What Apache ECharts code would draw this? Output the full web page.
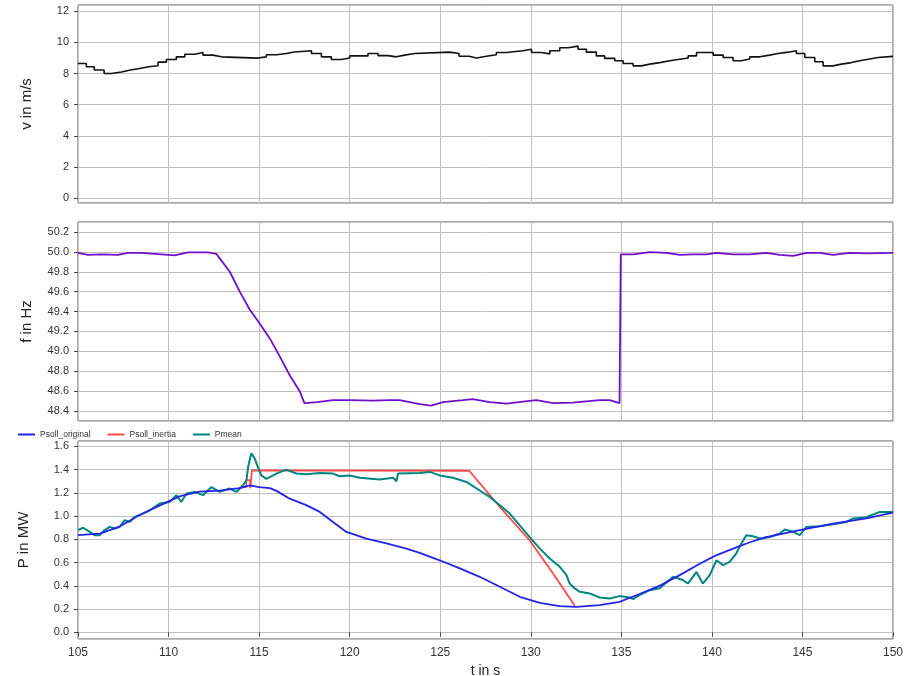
<!DOCTYPE html>
<html>
<head>
<meta charset="utf-8">
<script src="https://cdn.jsdelivr.net/npm/echarts@6/dist/echarts.min.js"></script>
<style>
  html, body { margin: 0; padding: 0; background: #fff; }
  #chart { width: 910px; height: 676px; }
</style>
</head>
<body>
<div id="chart"></div>
<script>
// wind speed v in m/s, step held from t onward
var windV = [
  [105, 8.64], [105.46, 8.43], [105.9, 8.22], [106.44, 8.0], [106.84, 8.1], [107.4, 8.22],
  [107.9, 8.32], [108.4, 8.43], [108.9, 8.5], [109.42, 8.73], [109.88, 8.9], [110.43, 9.07],
  [110.9, 9.24], [111.44, 9.35], [111.9, 9.18], [112.45, 9.07], [112.92, 8.99], [114.94, 9.07],
  [115.4, 9.2], [115.96, 9.28], [116.5, 9.38], [116.95, 9.46], [117.89, 9.28], [118.44, 9.07],
  [118.99, 8.9], [119.54, 9.0], [120.0, 9.13], [121.01, 9.28], [121.57, 9.15], [122.12, 9.07],
  [122.58, 9.18], [123.04, 9.28], [123.59, 9.37], [125.52, 9.28], [126.04, 9.11], [126.59, 9.0],
  [127.0, 9.11], [127.55, 9.2], [128.1, 9.35], [128.66, 9.46], [129.57, 9.56], [130.04, 9.35],
  [130.59, 9.26], [131.05, 9.46], [131.6, 9.65], [132.06, 9.76], [132.61, 9.56], [133.07, 9.37],
  [133.62, 9.13], [134.08, 8.97], [134.64, 8.82], [135.1, 8.64], [135.65, 8.49], [136.11, 8.6],
  [136.57, 8.7], [137.12, 8.82], [137.67, 8.9], [138.13, 9.0], [138.69, 9.13], [139.15, 9.35],
  [140.07, 9.18], [140.62, 9.03], [141.17, 8.82], [141.63, 8.93], [142.09, 9.07], [142.64, 9.18],
  [143.19, 9.28], [143.65, 9.37], [144.21, 9.46], [144.67, 9.28], [145.13, 9.03], [145.68, 8.75],
  [146.14, 8.49], [146.69, 8.6], [147.15, 8.7], [147.7, 8.82], [148.16, 8.93], [148.71, 9.03],
  [149.17, 9.1], [150, 9.1]
];

// grid frequency f in Hz
var freqF = [
  [105, 49.99], [105.55, 49.97], [106.3, 49.975], [107.2, 49.97], [107.76, 49.99], [108.5, 49.99],
  [109.24, 49.98], [109.97, 49.97], [110.34, 49.965], [111.07, 49.995], [112.18, 49.995],
  [112.64, 49.98], [113.38, 49.80], [113.93, 49.60], [114.48, 49.42], [115.03, 49.28],
  [115.59, 49.13], [116.14, 48.95], [116.69, 48.76], [117.24, 48.60], [117.5, 48.48],
  [118.2, 48.49], [119.08, 48.51], [120.0, 48.51], [121.29, 48.505], [122.21, 48.51],
  [122.76, 48.51], [123.87, 48.47], [124.5, 48.455], [125.15, 48.49], [126.26, 48.51],
  [126.8, 48.52], [127.73, 48.49], [128.66, 48.475], [129.57, 48.495], [130.31, 48.51],
  [131.23, 48.48], [132.33, 48.485], [133.8, 48.51], [134.36, 48.51], [134.9, 48.48],
  [134.97, 49.975], [135.65, 49.975], [136.57, 49.998], [137.5, 49.99], [138.22, 49.97],
  [138.96, 49.975], [139.7, 49.975], [140.25, 49.99], [141.17, 49.975], [142.09, 49.975],
  [143.0, 49.99], [143.75, 49.97], [144.48, 49.96], [145.22, 49.99], [145.96, 49.99],
  [146.69, 49.97], [147.61, 49.99], [148.53, 49.985], [150, 49.99]
];

// power P in MW
var psollOriginal = [
  [105, 0.836], [106.2, 0.85], [107.3, 0.91], [108.4, 1.01], [109.5, 1.09], [110.6, 1.17],
  [111.7, 1.21], [112.8, 1.22], [113.9, 1.24], [114.5, 1.265], [115.0, 1.25], [115.6, 1.24],
  [115.96, 1.217], [116.69, 1.15], [117.6, 1.094], [118.35, 1.036], [119.08, 0.95],
  [119.82, 0.864], [120.92, 0.807], [122.03, 0.765], [123.13, 0.72], [123.87, 0.684],
  [124.97, 0.62], [126.08, 0.55], [127.18, 0.478], [128.29, 0.392], [129.39, 0.306],
  [130.5, 0.254], [131.6, 0.226], [132.52, 0.22], [133.8, 0.235], [134.9, 0.263],
  [136.0, 0.33], [137.1, 0.40], [138.2, 0.49], [139.33, 0.59], [140.2, 0.66], [141.17, 0.72],
  [142.1, 0.775], [143.0, 0.82], [144.85, 0.88], [146.69, 0.936], [148.53, 0.98], [150, 1.03]
];
var psollInertia = [
  [114.0, 1.245], [114.28, 1.25], [114.3, 1.31], [114.5, 1.31], [114.52, 1.24], [114.57, 1.24],
  [114.6, 1.394], [126.6, 1.39], [128.29, 1.08], [129.94, 0.79], [131.23, 0.507], [132.43, 0.23]
];
var pMean = [
  [105, 0.88], [105.28, 0.90], [105.65, 0.865], [105.92, 0.836], [106.2, 0.836], [106.47, 0.88],
  [106.75, 0.907], [107.03, 0.893], [107.3, 0.907], [107.58, 0.965], [107.85, 0.95],
  [108.13, 0.993], [108.4, 1.008], [108.96, 1.05], [109.51, 1.108], [110.06, 1.122],
  [110.43, 1.18], [110.7, 1.122], [110.99, 1.194], [111.44, 1.208], [111.9, 1.18],
  [112.37, 1.25], [112.82, 1.208], [113.37, 1.237], [113.75, 1.208], [114.11, 1.265],
  [114.3, 1.308], [114.39, 1.42], [114.57, 1.54], [114.76, 1.495], [114.94, 1.42],
  [115.12, 1.35], [115.4, 1.32], [115.96, 1.366], [116.5, 1.40], [117.06, 1.366],
  [117.6, 1.36], [118.35, 1.37], [119.08, 1.366], [119.45, 1.343], [120.0, 1.35],
  [120.56, 1.33], [121.66, 1.314], [122.4, 1.33], [122.58, 1.30], [122.67, 1.366],
  [123.87, 1.37], [124.42, 1.38], [124.97, 1.35], [125.7, 1.33], [126.45, 1.294],
  [127.18, 1.22], [127.73, 1.165], [128.29, 1.094], [128.84, 1.022], [129.39, 0.92],
  [129.94, 0.82], [130.5, 0.72], [131.05, 0.635], [131.6, 0.564], [131.97, 0.492],
  [132.15, 0.42], [132.43, 0.378], [132.7, 0.349], [133.25, 0.335], [133.8, 0.30],
  [134.36, 0.292], [134.9, 0.312], [135.45, 0.30], [135.65, 0.286], [136.0, 0.32],
  [136.57, 0.363], [137.12, 0.38], [137.86, 0.478], [138.4, 0.45], [138.68, 0.42],
  [139.15, 0.52], [139.5, 0.42], [139.88, 0.492], [140.25, 0.62], [140.62, 0.578],
  [140.98, 0.606], [141.35, 0.68], [141.63, 0.765], [141.9, 0.836], [142.27, 0.827],
  [142.64, 0.807], [143.2, 0.82], [143.75, 0.85], [144.02, 0.885], [144.48, 0.865],
  [144.85, 0.836], [145.22, 0.907], [145.96, 0.913], [146.69, 0.93], [147.43, 0.95],
  [147.8, 0.98], [148.53, 0.99], [149.27, 1.036], [150, 1.036]
];

var FONT = "'Liberation Sans', Arial, sans-serif";
var NARROW = "'Liberation Sans Narrow', 'Liberation Sans', Arial, sans-serif";
var gridLine = { show: true, lineStyle: { color: '#c0c0c0', width: 1 } };

function xAxisFor(idx, withLabels) {
  return {
    type: 'value', gridIndex: idx, min: 105, max: 150, interval: 5,
    axisLine: { show: false },
    axisTick: { show: withLabels, length: 4, lineStyle: { color: '#444' } },
    axisLabel: { show: withLabels, color: '#333', fontSize: 12, fontFamily: NARROW, margin: 8 },
    splitLine: gridLine,
    name: withLabels ? 't in s' : '',
    nameLocation: 'middle', nameGap: 25,
    nameTextStyle: { color: '#222', fontSize: 14, fontFamily: FONT }
  };
}

function yAxisFor(idx, name, lo, hi, step, digits, gap) {
  return {
    type: 'value', gridIndex: idx, min: lo, max: hi,
    splitNumber: Math.round((hi - lo) / step), minInterval: step, maxInterval: step,
    axisLine: { show: false },
    axisTick: { show: true, length: 4, lineStyle: { color: '#444' } },
    axisLabel: {
      color: '#333', fontSize: 11, fontFamily: FONT, margin: 9,
      showMinLabel: false, showMaxLabel: false,
      formatter: function (v) { return v.toFixed(digits); }
    },
    splitLine: gridLine,
    name: name, nameLocation: 'middle', nameGap: gap, nameRotate: 90,
    nameTextStyle: { color: '#222', fontSize: 15, fontFamily: FONT }
  };
}

function panel(top, height) {
  return {
    left: 78, right: 17, top: top, height: height,
    show: true, borderColor: '#555', borderWidth: 1,
    outerBoundsMode: 'none', containLabel: false
  };
}

var chart = echarts.init(document.getElementById('chart'), null, { renderer: 'canvas' });

var option = {
  backgroundColor: '#fff',
  animation: false,
  textStyle: { fontFamily: FONT },
  legend: {
    left: 13, top: 425, icon: 'rect', itemWidth: 17, itemHeight: 2, itemGap: 17,
    textStyle: { color: '#333', fontSize: 8.5, fontFamily: FONT },
    data: ['Psoll_original', 'Psoll_inertia', 'Pmean']
  },
  grid: [panel(5, 198), panel(222, 199), panel(441, 198)],
  xAxis: [xAxisFor(0, false), xAxisFor(1, false), xAxisFor(2, true)],
  yAxis: [
    yAxisFor(0, 'v in m/s', -0.32, 12.4, 2, 0, 44),
    yAxisFor(1, 'f in Hz', 48.3, 50.3, 0.2, 1, 44),
    yAxisFor(2, 'P in MW', -0.057, 1.646, 0.2, 1, 47)
  ],
  series: [
    {
      name: 'v', type: 'line', xAxisIndex: 0, yAxisIndex: 0, step: 'end',
      showSymbol: false, symbol: 'none', data: windV,
      lineStyle: { color: '#111', width: 1.6 }
    },
    {
      name: 'f', type: 'line', xAxisIndex: 1, yAxisIndex: 1,
      showSymbol: false, symbol: 'none', data: freqF,
      lineStyle: { color: '#6f10c8', width: 1.8 }
    },
    {
      name: 'Psoll_inertia', type: 'line', xAxisIndex: 2, yAxisIndex: 2, z: 2,
      showSymbol: false, symbol: 'none', data: psollInertia,
      color: '#ff4a4a', lineStyle: { color: '#ff4a4a', width: 1.8 }
    },
    {
      name: 'Pmean', type: 'line', xAxisIndex: 2, yAxisIndex: 2, z: 3,
      showSymbol: false, symbol: 'none', data: pMean,
      color: '#008580', lineStyle: { color: '#008580', width: 2 }
    },
    {
      name: 'Psoll_original', type: 'line', xAxisIndex: 2, yAxisIndex: 2, z: 4,
      showSymbol: false, symbol: 'none', data: psollOriginal,
      color: '#2424e6', lineStyle: { color: '#2424e6', width: 1.8 }
    }
  ]
};

chart.setOption(option);
</script>
</body>
</html>
